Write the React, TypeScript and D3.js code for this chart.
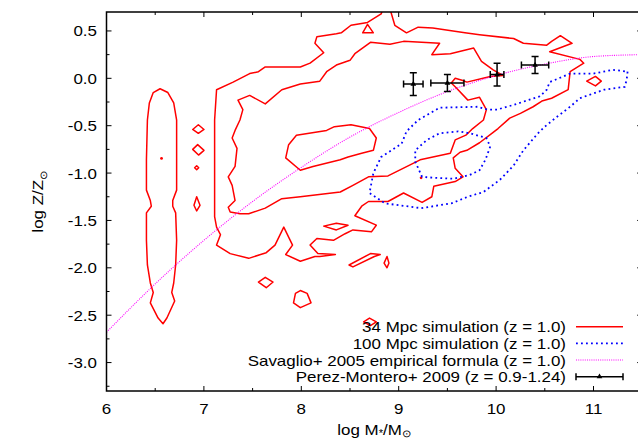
import { useEffect, useRef } from 'react';
import * as d3 from 'd3';

// axes (x: log M*/Msun, y: log Z/Zsun)
const xTickValues = [6, 7, 8, 9, 10, 11];
const yTickValues = [-3.0, -2.5, -2.0, -1.5, -1.0, -0.5, 0.0, 0.5];

// Savaglio+ 2005 relation at z = 1
const savMass = [6, 6.5, 7, 7.5, 8, 8.5, 9, 9.5, 10, 10.5, 11, 11.5];
const savZ = [-2.68, -2.17, -1.71, -1.3, -0.94, -0.62, -0.36, -0.14, 0.03, 0.15, 0.23, 0.25];

// Perez-Montero+ 2009 points
const pmMass = [9.15, 9.5, 10.01, 10.4];
const pmZ = [-0.06, -0.05, 0.04, 0.14];
const pmMassErr = [0.1, 0.17, 0.07, 0.14];
const pmZErr = [0.12, 0.09, 0.12, 0.09];

// 34 Mpc simulation contours
const redColumn = [
  [6.55, -0.11], [6.63, -0.15], [6.69, -0.26], [6.72, -0.44], [6.72, -0.86], [6.72, -1.18],
  [6.68, -1.29], [6.68, -1.35], [6.71, -1.42], [6.72, -1.71], [6.71, -1.97], [6.69, -2.16],
  [6.67, -2.26], [6.7, -2.35], [6.62, -2.53], [6.58, -2.59], [6.53, -2.53], [6.45, -2.37],
  [6.48, -2.26], [6.45, -2.16], [6.42, -1.97], [6.41, -1.71], [6.41, -1.42], [6.46, -1.35],
  [6.45, -1.29], [6.41, -1.18], [6.41, -0.86], [6.42, -0.44], [6.44, -0.26], [6.48, -0.15],
];
const redOuter = [
  [7.13, -0.12], [7.3, -0.04], [7.47, 0.05], [7.56, 0.07], [7.63, 0.12], [7.99, 0.12], [8.09, 0.16],
  [8.23, 0.27], [8.14, 0.37], [8.16, 0.44], [8.36, 0.47], [8.41, 0.48], [8.51, 0.56], [8.68, 0.59],
  [8.82, 0.68], [8.85, 0.77], [8.92, 0.77], [8.92, 0.7], [8.96, 0.56], [9.08, 0.48], [9.2, 0.54],
  [9.35, 0.53], [9.68, 0.48], [9.83, 0.46], [10.18, 0.42], [10.28, 0.37], [10.52, 0.35],
  [10.57, 0.39], [10.66, 0.45], [10.78, 0.37], [10.55, 0.28], [10.86, 0.2], [10.9, 0.16],
  [10.76, 0.07], [10.74, -0.12], [10.57, -0.21], [10.47, -0.24], [10.38, -0.3], [10.25, -0.37],
  [10.14, -0.42], [10.02, -0.53], [9.97, -0.57], [9.83, -0.68], [9.7, -0.76], [9.63, -0.78],
  [9.56, -0.84], [9.58, -0.95], [9.66, -1.04], [9.58, -1.09], [9.36, -1.14], [9.34, -1.25],
  [9.24, -1.31], [9.05, -1.21], [8.89, -1.3], [8.69, -1.3], [8.62, -1.35], [8.55, -1.45],
  [8.77, -1.55], [8.72, -1.62], [8.53, -1.6], [8.45, -1.64], [8.33, -1.71], [8.16, -1.69],
  [8.09, -1.76], [8.17, -1.85], [8.35, -1.86], [8.19, -1.88], [8.14, -1.88], [7.99, -1.93],
  [7.84, -1.86], [7.91, -1.76], [7.82, -1.57], [7.73, -1.76], [7.64, -1.84], [7.46, -1.9],
  [7.27, -1.85], [7.13, -1.76], [7.17, -1.65], [7.13, -1.57], [7.11, -1.46], [7.11, -0.86],
  [7.11, -0.44],
];
const redMiddle = [
  [7.35, -0.23], [7.47, -0.18], [7.63, -0.27], [7.8, -0.12], [7.99, -0.06], [8.19, -0.03],
  [8.26, 0.07], [8.36, 0.14], [8.5, 0.19], [8.55, 0.26], [8.71, 0.38], [8.91, 0.36], [9.05, 0.39],
  [9.42, 0.37], [9.34, 0.25], [9.53, 0.26], [9.77, 0.32], [9.85, 0.18], [9.97, 0.09], [10.07, 0.03],
  [9.94, 0.02], [9.7, -0.04], [9.65, -0.02], [9.58, 0.0], [9.54, -0.05], [9.59, -0.1], [9.71, -0.23],
  [9.83, -0.2], [9.9, -0.33], [9.87, -0.44], [9.76, -0.53], [9.69, -0.6], [9.58, -0.65],
  [9.53, -0.79], [9.22, -0.86], [8.89, -1.03], [8.69, -1.04], [8.53, -1.13], [8.4, -1.2],
  [7.99, -1.25], [7.8, -1.27], [7.63, -1.37], [7.46, -1.43], [7.37, -1.43], [7.27, -1.41],
  [7.25, -1.36], [7.32, -1.29], [7.29, -1.13], [7.25, -1.04], [7.32, -0.93], [7.34, -0.74],
  [7.29, -0.63], [7.32, -0.55], [7.37, -0.44], [7.4, -0.33],
];
const redCore = [
  [7.84, -0.84], [7.87, -0.7], [7.95, -0.6], [8.26, -0.55], [8.34, -0.51], [8.51, -0.49],
  [8.7, -0.53], [8.77, -0.63], [8.74, -0.76], [8.62, -0.79], [8.48, -0.83], [8.4, -0.86],
  [8.12, -0.93], [7.99, -0.97],
];
const redIslands = [
  [[6.885, -0.54], [6.943, -0.49], [7.001, -0.54], [6.943, -0.58]],
  [[6.885, -0.75], [6.936, -0.7], [7.001, -0.76], [6.945, -0.81]],
  [[6.905, -0.944], [6.926, -0.923], [6.947, -0.944], [6.926, -0.965]],
  [[6.926, -1.25], [6.96, -1.34], [6.926, -1.4], [6.898, -1.34]],
  [[8.68, 0.57], [8.63, 0.48], [8.74, 0.48]],
  [[10.93, -0.03], [11.02, 0.02], [11.08, -0.03], [11.02, -0.08]],
  [[7.56, -2.15], [7.63, -2.1], [7.71, -2.15], [7.64, -2.21]],
  [[7.99, -2.24], [8.06, -2.27], [8.1, -2.37], [7.99, -2.42], [7.92, -2.37], [7.94, -2.27]],
  [[8.49, -1.97], [8.71, -1.85], [8.81, -1.86], [8.75, -1.88], [8.53, -1.99]],
  [[8.88, -1.88], [8.9, -1.95], [8.88, -2.0], [8.85, -1.95]],
  [[8.64, -2.57], [8.7, -2.53], [8.77, -2.57], [8.71, -2.61]],
  [[8.23, -1.56], [8.36, -1.6], [8.48, -1.55], [8.36, -1.53]],
];
const redDots = [[6.565, -0.845], [9.23, -1.05]];

// 100 Mpc simulation contours
const blueOuter = [
  [11.35, 0.07], [11.34, -0.02], [11.32, -0.09], [11.11, -0.12], [10.86, -0.21], [10.76, -0.3],
  [10.62, -0.41], [10.5, -0.51], [10.43, -0.58], [10.28, -0.76], [10.18, -0.92], [10.04, -1.07],
  [9.87, -1.2], [9.71, -1.25], [9.54, -1.32], [9.23, -1.37], [8.86, -1.32], [8.7, -1.21],
  [8.74, -1.0], [8.82, -0.83], [9.03, -0.69], [9.08, -0.56], [9.2, -0.44], [9.42, -0.31],
  [9.81, -0.3], [9.91, -0.33], [10.01, -0.33], [10.18, -0.28], [10.45, -0.19], [10.52, -0.12],
  [10.55, -0.04], [10.76, 0.05], [11.0, 0.05], [11.2, 0.09],
];
const blueInner = [
  [9.24, -1.04], [9.17, -0.88], [9.17, -0.76], [9.29, -0.65], [9.42, -0.58], [9.61, -0.56],
  [9.73, -0.58], [9.9, -0.63], [9.94, -0.72], [9.89, -0.86], [9.83, -0.97], [9.73, -1.02],
  [9.56, -1.06], [9.37, -1.05],
];

const legendLabels = [
  '34 Mpc simulation (z = 1.0)',
  '100 Mpc simulation (z = 1.0)',
  'Savaglio+ 2005 empirical formula (z = 1.0)',
  'Perez-Montero+ 2009 (z = 0.9-1.24)',
];

const FONT = "'Liberation Sans', Arial, Helvetica, sans-serif";
const RED = '#ff0000';
const BLUE = '#0000ff';
const MAGENTA = '#ff00ff';
const STRETCH = 1.13; // reference glyphs are a bit wider than Arial

export default function App() {
  const svgRef = useRef<SVGSVGElement>(null);

  useEffect(() => {
    const svg = d3.select(svgRef.current);
    svg.selectAll('*').remove();

    const left = 106.5, right = 642.2, top = 12, bottom = 391;
    const x = d3.scaleLinear().domain([6, 11.5]).range([left, right]);
    const y = d3.scaleLinear().domain([-3.3, 0.7]).range([bottom, top]);

    svg.append('rect').attr('width', 638).attr('height', 440).attr('fill', '#fff');

    svg.append('clipPath').attr('id', 'plotclip')
      .append('rect').attr('x', left).attr('y', top)
      .attr('width', right - left).attr('height', bottom - top);

    const plot = svg.append('g').attr('clip-path', 'url(#plotclip)');

    const closed = d3.line<number[]>()
      .x((d) => x(d[0])).y((d) => y(d[1]))
      .curve(d3.curveLinearClosed);

    // red contours
    [redColumn, redOuter, redMiddle, redCore, ...redIslands].forEach((c) => {
      plot.append('path').attr('d', closed(c)).attr('fill', 'none')
        .attr('stroke', RED).attr('stroke-width', 1.5).attr('stroke-linejoin', 'round');
    });
    redDots.forEach((d) => {
      plot.append('circle').attr('cx', x(d[0])).attr('cy', y(d[1])).attr('r', 1.4).attr('fill', RED);
    });

    // blue dotted contours
    [blueOuter, blueInner].forEach((c) => {
      plot.append('path').attr('d', closed(c)).attr('fill', 'none')
        .attr('stroke', BLUE).attr('stroke-width', 1.8).attr('stroke-dasharray', '1.8,3.2');
    });

    // Savaglio curve
    const savLine = d3.line<number>()
      .x((_, i) => x(savMass[i])).y((d) => y(d))
      .curve(d3.curveMonotoneX);
    plot.append('path').attr('d', savLine(savZ)).attr('fill', 'none')
      .attr('stroke', MAGENTA).attr('stroke-width', 1.1).attr('stroke-dasharray', '1,1.2');

    // Perez-Montero error bars
    const eb = plot.append('g').attr('stroke', '#000').attr('stroke-width', 1.5);
    pmMass.forEach((m, i) => {
      const cx = x(m), cy = y(pmZ[i]);
      const x0 = x(m - pmMassErr[i]), x1 = x(m + pmMassErr[i]);
      const y0 = y(pmZ[i] - pmZErr[i]), y1 = y(pmZ[i] + pmZErr[i]);
      eb.append('line').attr('x1', x0).attr('x2', x1).attr('y1', cy).attr('y2', cy);
      eb.append('line').attr('x1', cx).attr('x2', cx).attr('y1', y0).attr('y2', y1);
      eb.append('line').attr('x1', x0).attr('x2', x0).attr('y1', cy - 3.5).attr('y2', cy + 3.5);
      eb.append('line').attr('x1', x1).attr('x2', x1).attr('y1', cy - 3.5).attr('y2', cy + 3.5);
      eb.append('line').attr('x1', cx - 3.5).attr('x2', cx + 3.5).attr('y1', y0).attr('y2', y0);
      eb.append('line').attr('x1', cx - 3.5).attr('x2', cx + 3.5).attr('y1', y1).attr('y2', y1);
      plot.append('path').attr('d', d3.symbol(d3.symbolTriangle, 14)())
        .attr('transform', `translate(${cx},${cy})`).attr('fill', '#000');
    });

    // frame and ticks
    const axes = svg.append('g').attr('stroke', '#000');
    axes.append('rect').attr('x', left).attr('y', top)
      .attr('width', right - left).attr('height', bottom - top)
      .attr('fill', 'none').attr('stroke-width', 1.5);

    const xMinor = d3.range(6.5, 11.6, 1);
    const yMinor = d3.range(-3.25, 0.7, 0.5);
    const tick = (x1: number, y1: number, x2: number, y2: number) =>
      axes.append('line').attr('x1', x1).attr('y1', y1).attr('x2', x2).attr('y2', y2).attr('stroke-width', 1);
    xTickValues.forEach((v) => { tick(x(v), bottom, x(v), bottom - 5); tick(x(v), top, x(v), top + 5); });
    xMinor.forEach((v) => { tick(x(v), bottom, x(v), bottom - 3); tick(x(v), top, x(v), top + 3); });
    yTickValues.forEach((v) => { tick(left, y(v), left + 5, y(v)); tick(right, y(v), right - 5, y(v)); });
    yMinor.forEach((v) => { tick(left, y(v), left + 3, y(v)); tick(right, y(v), right - 3, y(v)); });

    const labels = svg.append('g').attr('font-family', FONT).attr('font-size', 15).attr('fill', '#000');
    const label = (tx: number, ty: number, anchor: string, extra = '') =>
      labels.append('text')
        .attr('transform', `translate(${tx},${ty})${extra} scale(${STRETCH},1)`)
        .attr('text-anchor', anchor);

    xTickValues.forEach((v) => { label(x(v), bottom + 23, 'middle').text(String(v)); });
    yTickValues.forEach((v) => { label(97, y(v) + 5.5, 'end').text(v.toFixed(1)); });

    // axis titles
    const yt = label(43, (top + bottom) / 2, 'middle', ' rotate(-90)');
    yt.append('tspan').text('log Z/Z');
    yt.append('tspan').attr('font-size', 10).attr('dy', 4).text('⊙');

    const xt = label((left + right) / 2, 434.5, 'middle');
    xt.append('tspan').text('log M');
    xt.append('tspan').attr('font-size', 10).attr('dy', 2).text('*');
    xt.append('tspan').attr('dy', -2).text('/M');
    xt.append('tspan').attr('font-size', 10).attr('dy', 2.5).text('⊙');

    // legend
    const rowY = [326.7, 343.3, 360, 376.7];
    const lx0 = 576, lx1 = 623;
    legendLabels.forEach((t, i) => { label(566, rowY[i] + 5.5, 'end').text(t); });
    const lg = svg.append('g');
    lg.append('line').attr('x1', lx0).attr('x2', lx1).attr('y1', rowY[0]).attr('y2', rowY[0])
      .attr('stroke', RED).attr('stroke-width', 1.5);
    lg.append('line').attr('x1', lx0).attr('x2', lx1).attr('y1', rowY[1]).attr('y2', rowY[1])
      .attr('stroke', BLUE).attr('stroke-width', 1.8).attr('stroke-dasharray', '1.8,3.2');
    lg.append('line').attr('x1', lx0).attr('x2', lx1).attr('y1', rowY[2]).attr('y2', rowY[2])
      .attr('stroke', MAGENTA).attr('stroke-width', 1.1).attr('stroke-dasharray', '1,1.2');
    const lb = lg.append('g').attr('stroke', '#000').attr('stroke-width', 1.5);
    lb.append('line').attr('x1', lx0).attr('x2', lx1).attr('y1', rowY[3]).attr('y2', rowY[3]);
    lb.append('line').attr('x1', lx0).attr('x2', lx0).attr('y1', rowY[3] - 3.5).attr('y2', rowY[3] + 3.5);
    lb.append('line').attr('x1', lx1).attr('x2', lx1).attr('y1', rowY[3] - 3.5).attr('y2', rowY[3] + 3.5);
    lg.append('path').attr('d', d3.symbol(d3.symbolTriangle, 14)())
      .attr('transform', `translate(${(lx0 + lx1) / 2},${rowY[3]})`).attr('fill', '#000');
  }, []);

  return (
    <svg ref={svgRef} width={638} height={440}
      style={{ position: 'absolute', left: 0, top: 0, display: 'block' }} />
  );
}
